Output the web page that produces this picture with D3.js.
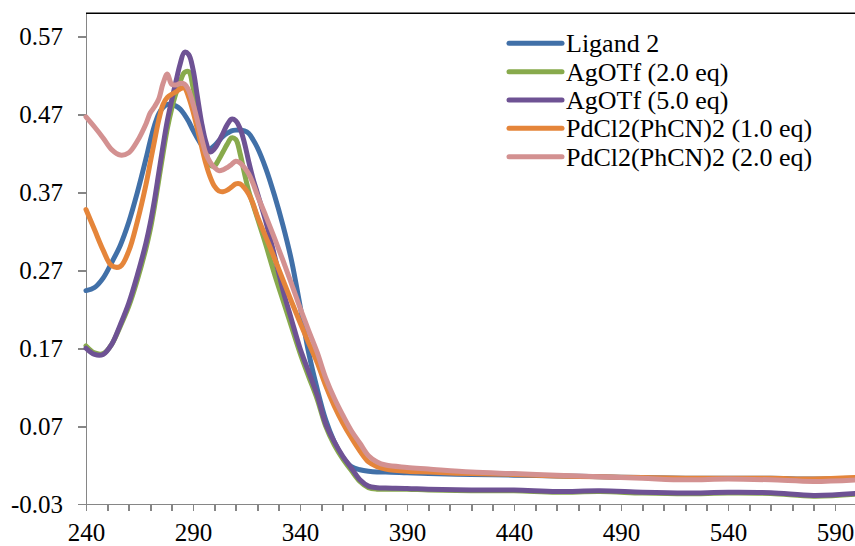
<!DOCTYPE html>
<html>
<head>
<meta charset="utf-8">
<script src="https://cdn.jsdelivr.net/npm/d3@7"></script>
<style>
  body { margin: 0; background: #fff; }
  svg { display: block; font-family: "Liberation Serif", "Times New Roman", serif; }
  .axis path, .axis line { stroke: #868686; stroke-width: 1.8; shape-rendering: crispEdges; }
  .axis text { font-size: 25px; fill: #000; font-family: "Liberation Serif", serif; }
  .series { fill: none; stroke-width: 5; stroke-linejoin: round; stroke-linecap: round; }
  .legend text { font-size: 26px; fill: #000; }
</style>
</head>
<body>
<svg id="chart" width="855" height="546"></svg>
<script>
// wavelength (nm)
var wavelengths = [240,244,248,252,256,260,264,268,
  270,272,274,276,278,280,282,284,286,288,290,292,294,296,298,300,
  302,304,306,308,310,312,314,316,318,320,
  324,328,332,336,340,344,348,352,356,360,364,368,372,376,380,
  390,400,420,440,460,480,500,520,540,560,580,600];

var ligand2 = [0.244,0.248,0.260,0.280,0.302,0.332,0.370,0.413,
  0.436,0.456,0.471,0.479,0.483,0.483,0.481,0.477,0.470,0.461,0.450,0.440,0.431,0.426,0.426,0.430,
  0.436,0.442,0.446,0.449,0.450,0.450,0.449,0.446,0.438,0.428,
  0.401,0.367,0.328,0.283,0.225,0.165,0.118,0.078,0.050,0.030,0.018,0.014,0.012,0.011,0.011,
  0.010,0.009,0.008,0.007,0.006,0.005,0.004,0.003,0.003,0.003,0.002,0.003];

var agotf2 = [0.173,0.164,0.163,0.175,0.198,0.224,0.258,0.298,
  0.322,0.352,0.386,0.420,0.452,0.477,0.497,0.512,0.524,0.525,0.505,0.478,0.450,0.425,0.405,0.404,
  0.412,0.422,0.432,0.440,0.438,0.420,0.395,0.372,0.355,0.338,
  0.303,0.266,0.232,0.198,0.164,0.134,0.105,0.070,0.046,0.028,0.013,-0.001,-0.009,-0.011,-0.011,
  -0.011,-0.012,-0.013,-0.013,-0.015,-0.014,-0.016,-0.017,-0.016,-0.0165,-0.020,-0.0175];

var agotf5 = [0.170,0.162,0.162,0.175,0.200,0.228,0.264,0.305,
  0.330,0.360,0.395,0.430,0.462,0.488,0.512,0.535,0.550,0.547,0.528,0.494,0.460,0.435,0.422,0.426,
  0.435,0.446,0.457,0.464,0.462,0.452,0.434,0.410,0.388,0.370,
  0.333,0.290,0.245,0.207,0.170,0.140,0.110,0.073,0.050,0.031,0.016,0.001,-0.007,-0.009,-0.0095,
  -0.010,-0.011,-0.012,-0.012,-0.014,-0.013,-0.015,-0.016,-0.015,-0.0155,-0.019,-0.0165];

var pd1 = [0.348,0.322,0.296,0.276,0.275,0.295,0.333,0.380,
  0.408,0.436,0.463,0.483,0.492,0.496,0.499,0.503,0.504,0.492,0.474,0.452,0.429,0.407,0.390,0.378,
  0.372,0.371,0.373,0.377,0.381,0.381,0.376,0.368,0.356,0.340,
  0.313,0.286,0.258,0.230,0.203,0.177,0.152,0.122,0.096,0.074,0.055,0.038,0.024,0.018,0.015,
  0.012,0.011,0.009,0.008,0.006,0.005,0.004,0.003,0.003,0.003,0.002,0.004];

var pd2 = [0.467,0.454,0.440,0.425,0.418,0.421,0.436,0.458,
  0.472,0.480,0.490,0.510,0.522,0.509,0.508,0.510,0.509,0.501,0.484,0.463,0.440,0.420,0.409,0.402,
  0.398,0.399,0.402,0.406,0.410,0.408,0.402,0.394,0.382,0.367,
  0.340,0.312,0.283,0.253,0.222,0.193,0.165,0.132,0.106,0.084,0.064,0.048,0.032,0.024,0.020,
  0.017,0.015,0.011,0.009,0.007,0.005,0.003,0.001,0.002,0.001,-0.001,0.001];

var seriesNames = ["Ligand 2", "AgOTf (2.0 eq)", "AgOTf (5.0 eq)", "PdCl2(PhCN)2 (1.0 eq)", "PdCl2(PhCN)2 (2.0 eq)"];
var seriesValues = [ligand2, agotf2, agotf5, pd1, pd2];
var seriesColors = ["#4170a8", "#88aa4c", "#6e5294", "#e5853a", "#d39191"];

var yTicks = [-0.03, 0.07, 0.17, 0.27, 0.37, 0.47, 0.57];
var xLabels = [240, 290, 340, 390, 440, 490, 540, 590];

var svg = d3.select("#chart");

var x = d3.scaleLinear()
    .domain([240, 600])
    .range([86, 856.4]);

var y = d3.scaleLinear()
    .domain([-0.03, 0.60])
    .range([504, 13.3]);

// top border
svg.append("line")
    .attr("x1", x(240)).attr("x2", 855)
    .attr("y1", y(0.60)).attr("y2", y(0.60))
    .attr("stroke", "#000")
    .attr("stroke-width", 1.6);

svg.append("g")
    .attr("class", "axis")
    .attr("transform", "translate(" + x(240) + ",0)")
    .call(d3.axisLeft(y)
      .tickValues(yTicks)
      .tickSize(8)
      .tickSizeOuter(0)
      .tickPadding(15)
      .tickFormat(function(d) { return d.toFixed(2); }))
  .selectAll("text")
    .attr("dy", "0.33em");

svg.append("g")
    .attr("class", "axis")
    .attr("transform", "translate(0," + y(-0.03) + ")")
    .call(d3.axisBottom(x)
      .tickValues(d3.range(240, 601, 10))
      .tickSize(7)
      .tickSizeOuter(0)
      .tickPadding(12)
      .tickFormat(function(d) { return xLabels.indexOf(d) >= 0 ? d : ""; }))
  .selectAll("text")
    .attr("dy", "0.71em");

var line = d3.line()
    .x(function(d) { return x(d[0]); })
    .y(function(d) { return y(d[1]); })
    .curve(d3.curveCatmullRom.alpha(0.5));

svg.selectAll(".series")
    .data(seriesValues)
  .enter().append("path")
    .attr("class", "series")
    .attr("stroke", function(d, i) { return seriesColors[i]; })
    .attr("d", function(d) { return line(wavelengths.map(function(w, j) { return [w, d[j]]; })); });

// legend
var legend = svg.append("g")
    .attr("class", "legend")
    .attr("transform", "translate(509,43.3)");

var item = legend.selectAll("g")
    .data(seriesNames)
  .enter().append("g")
    .attr("transform", function(d, i) { return "translate(0," + (i * 28.35) + ")"; });

item.append("line")
    .attr("x1", 0).attr("x2", 53)
    .attr("stroke", function(d, i) { return seriesColors[i]; })
    .attr("stroke-width", 5)
    .attr("stroke-linecap", "round");

item.append("text")
    .attr("x", 57)
    .attr("y", 9)
    .text(function(d) { return d; });
</script>
</body>
</html>
